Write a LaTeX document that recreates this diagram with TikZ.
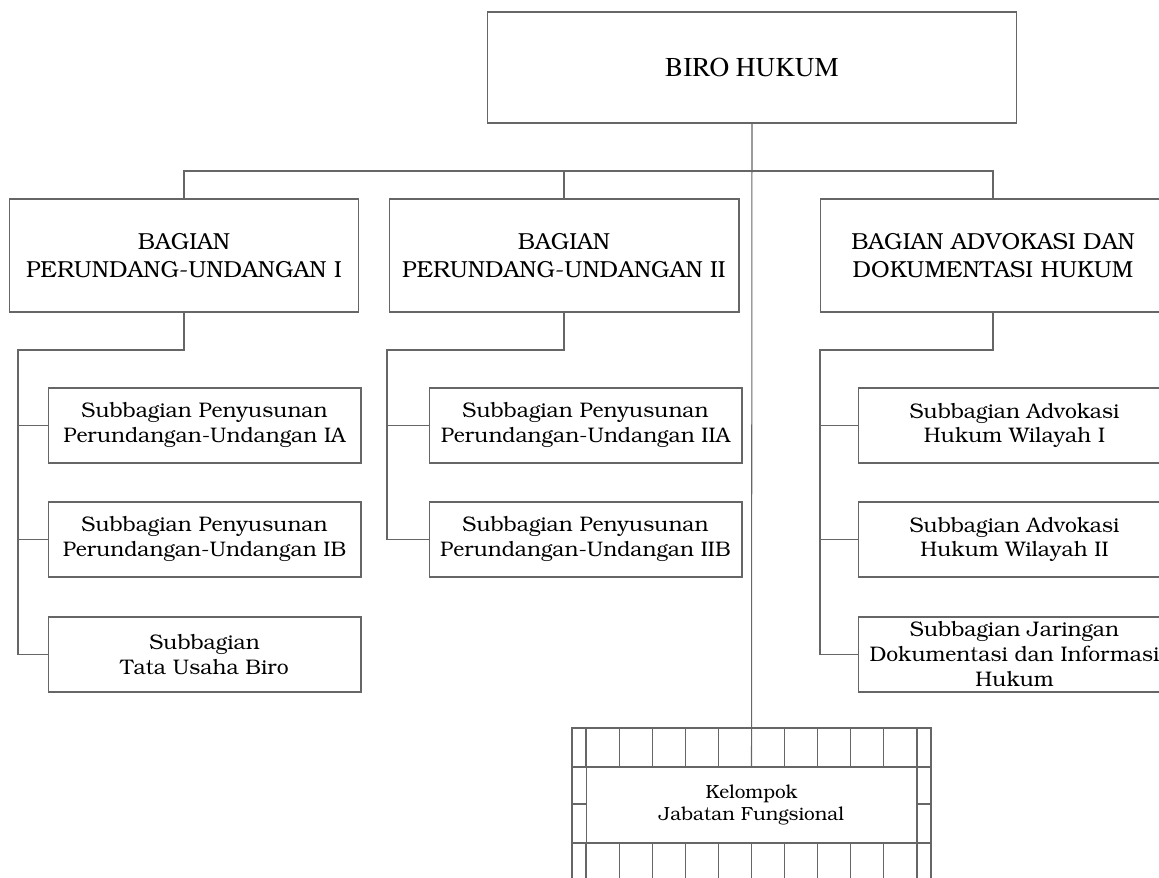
\documentclass[tikz,border=0pt]{standalone}
\usepackage[T1]{fontenc}
\usepackage{tikz}
\usetikzlibrary{positioning}
\newcommand\bookfont{\fontfamily{pbk}\selectfont}
\newcommand\timesfont{\fontfamily{ptm}\selectfont}

\begin{document}
\begin{tikzpicture}[x=0.02cm,y=-0.02cm,
  box/.style={draw=black!60,line width=0.6pt,align=center,inner sep=0pt},
  head/.style={box,minimum width=7cm,minimum height=2.26cm,font=\bookfont\fontsize{13.2}{16}\selectfont},
  sub/.style={box,minimum width=6.26cm,minimum height=1.5cm,font=\bookfont\fontsize{12}{14.2}\selectfont},
  wire/.style={draw=black!60,line width=0.6pt}]
\useasboundingbox (0,0) rectangle (1159,877);
% top
\node[box,minimum width=10.6cm,minimum height=2.22cm,font=\timesfont\fontsize{15.5}{18}\selectfont] (biro) at (752,67.5) {BIRO HUKUM};
% bagian
\node[head] (bag1) at (184,255.5) {BAGIAN\\PERUNDANG-UNDANGAN I};
\node[head] (bag2) at (564,255.5) {BAGIAN\\PERUNDANG-UNDANGAN II};
\node[head,minimum width=6.92cm] (bag3) at (993,255.5) {BAGIAN ADVOKASI DAN\\DOKUMENTASI HUKUM};
% subbagian
\node[sub] (sa1) at (204.5,425.5) {Subbagian Penyusunan\\Perundangan-Undangan IA};
\node[sub] (sa2) at (204.5,539.5) {Subbagian Penyusunan\\Perundangan-Undangan IB};
\node[sub] (sa3) at (204.5,654.5) {Subbagian\\Tata Usaha Biro};
\node[sub] (sb1) at (585.5,425.5) {Subbagian Penyusunan\\Perundangan-Undangan IIA};
\node[sub] (sb2) at (585.5,539.5) {Subbagian Penyusunan\\Perundangan-Undangan IIB};
\node[sub] (sc1) at (1014.5,425.5) {Subbagian Advokasi\\Hukum Wilayah I};
\node[sub] (sc2) at (1014.5,539.5) {Subbagian Advokasi\\Hukum Wilayah II};
\node[sub] (sc3) at (1014.5,654.5) {Subbagian Jaringan\\Dokumentasi dan Informasi\\Hukum};
% kelompok jabatan fungsional
\draw[wire] (572,728) rectangle (931,890);
\draw[wire] (572,767) -- (931,767) (572,843) -- (931,843);
\foreach \i in {0,...,10}
  \draw[wire] ({586+\i*33.1},728) -- ++(0,39) ({586+\i*33.1},843) -- ++(0,47);
\draw[wire] (572,804) -- (586,804) (917,804) -- (931,804);
\node[box,fill=white,minimum width=6.62cm,minimum height=1.52cm,font=\bookfont\fontsize{10.8}{12.4}\selectfont] (kel) at (751.5,805) {Kelompok\\Jabatan Fungsional};
% lines
\coordinate (bus) at (752,171);
\coordinate (s1) at (18,350);
\coordinate (s2) at (387,350);
\coordinate (s3) at (820,350);
\draw[wire] (biro.south) -- (kel.north);
\draw[wire] (bag1.north) |- (bus) -| (bag3.north);
\draw[wire] (bag2.north) |- (bus);
\draw[wire] (bag1.south) |- (s1) |- (sa3.west);
\draw[wire] (s1 |- sa1.west) -- (sa1.west);
\draw[wire] (s1 |- sa2.west) -- (sa2.west);
\draw[wire] (bag2.south) |- (s2) |- (sb2.west);
\draw[wire] (s2 |- sb1.west) -- (sb1.west);
\draw[wire] (bag3.south) |- (s3) |- (sc3.west);
\draw[wire] (s3 |- sc1.west) -- (sc1.west);
\draw[wire] (s3 |- sc2.west) -- (sc2.west);
\end{tikzpicture}
\end{document}
